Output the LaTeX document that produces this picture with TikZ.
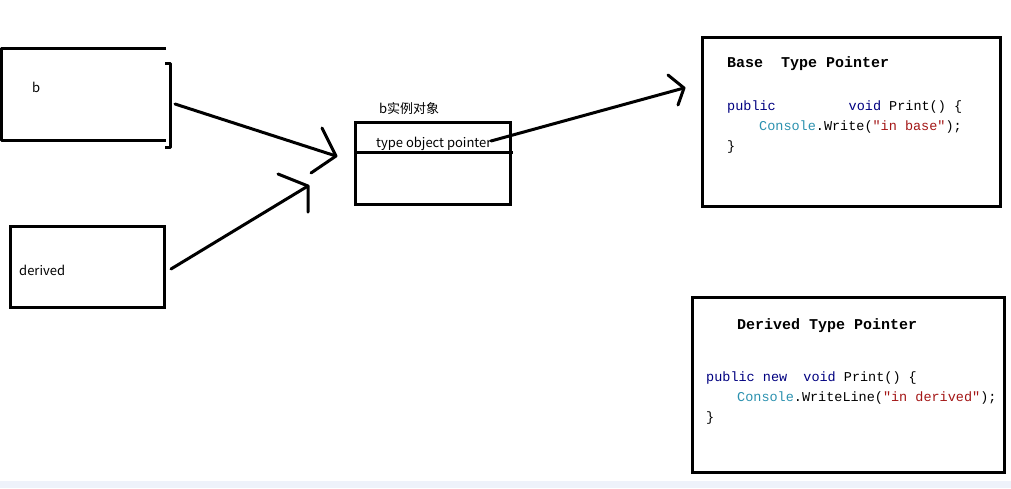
\documentclass[tikz,border=0pt]{standalone}
\usepackage{fontspec}
\setmainfont{Noto Sans CJK SC}
\newfontfamily\codefont{Liberation Mono}
\usetikzlibrary{positioning}

\definecolor{kwblue}{HTML}{000080}
\definecolor{typeteal}{HTML}{2B91AF}
\definecolor{strred}{HTML}{A31515}
\definecolor{stripgray}{HTML}{EEF2FA}

\tikzset{
  box/.style = {draw, rectangle, line width=3pt, inner sep=0pt, outer sep=0pt, anchor=north west},
  label/.style = {anchor=base west, inner sep=0pt, font=\fontsize{13}{15}\selectfont},
  code/.style = {anchor=base west, inner sep=0pt, font=\codefont\fontsize{13.5}{16}\selectfont},
  codehead/.style = {anchor=base west, inner sep=0pt, font=\codefont\bfseries\fontsize{15}{17}\selectfont},
  pen/.style = {line width=3pt, line cap=round, line join=round}
}

\begin{document}
\begin{tikzpicture} [x=1pt, y=-1pt]
        \useasboundingbox (0,0) rectangle (1011,488);
        \fill [stripgray] (0,481) rectangle (1011,488);

        % variable b
        \draw [pen, line cap=butt] (166,48) -- (1.5,48) -- (1.5,140) -- (166,140);
        \draw [pen, line cap=butt] (165,63) -- (170,63) -- (170,147) -- (165,147);
        \node (bname) [label] at (32,92) {b};

        % variable derived
        \node (dvar) [box, minimum width=154pt, minimum height=81pt] at (10,226) {};
        \node (dname) [label] at (19,275) {derived};

        % instance object
        \node (obj) [box, minimum width=155pt, minimum height=82pt] at (355,122) {};
        \draw [pen, line cap=butt] ([yshift=-30pt]obj.north west) -- ([yshift=-30pt, xshift=3pt]obj.north east);
        \node (objname) [label] at (379,113) {b实例对象};
        \node (tptr) [label] at (376,147) {type object pointer};

        % type objects
        \node (base) [box, minimum width=298pt, minimum height=169pt] at (702,37) {};
        \node (basehd) [codehead] at (727,67) {Base~~Type~Pointer};
        \node (base1) [code] at (727,110) {\color{kwblue}public~~~~~~~~~void\color{black}~Print()~\{};
        \node (base2) [code] at (759,130) {\color{typeteal}Console\color{black}.Write(\color{strred}"in~base"\color{black});};
        \node (base3) [code] at (727,150) {\}};

        \node (deriv) [box, minimum width=312pt, minimum height=175pt] at (692,297) {};
        \node (derivhd) [codehead] at (737,329) {Derived~Type~Pointer};
        \node (deriv1) [code] at (706,381) {\color{kwblue}public~new~~void\color{black}~Print()~\{};
        \node (deriv2) [code] at (737,401) {\color{typeteal}Console\color{black}.WriteLine(\color{strred}"in~derived"\color{black});};
        \node (deriv3) [code] at (706,421) {\}};

        % pointers
        \coordinate (bout) at (175,104);
        \coordinate (dout) at (171,269);
        \coordinate (pout) at (491,141);
        \coordinate (tipb) at (336,156);
        \coordinate (tipd) at (308,186);
        \coordinate (tipp) at (684,88);

        \draw [pen] (bout) -- (tipb);
        \draw [pen] (322,128) -- (tipb) -- (311,173);
        \draw [pen] (dout) -- (tipd);
        \draw [pen] (278,174) -- (tipd) -- (308,212);
        \draw [pen] (pout) -- (tipp);
        \draw [pen] (668,75) -- (tipp) -- (678,105);
    \end{tikzpicture}
\end{document}
